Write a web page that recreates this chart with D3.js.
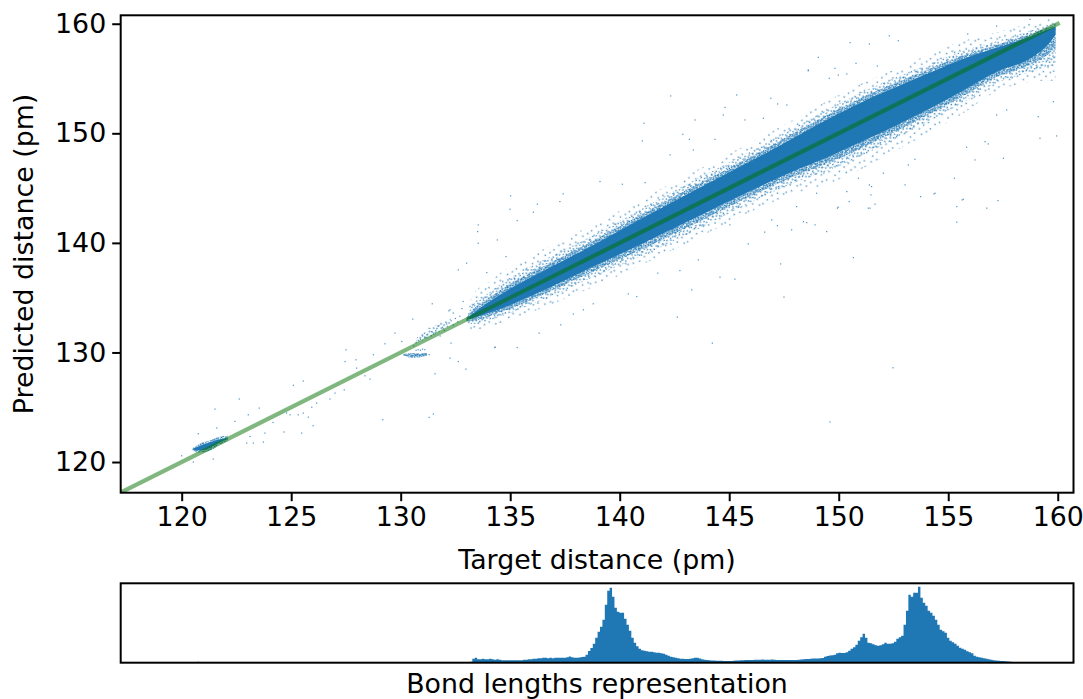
<!DOCTYPE html>
<html>
<head>
<meta charset="utf-8">
<script src="https://cdnjs.cloudflare.com/ajax/libs/d3/7.8.5/d3.min.js"></script>
<style>
  body { margin: 0; background: #fff; }
  text { font-family: "DejaVu Sans", sans-serif; fill: #000; }
  .tick text { font-size: 26.8px; }
  .label { font-size: 26.8px; }
</style>
</head>
<body>
<div id="chart"></div>
<script>
var w = 1083,
    h = 699,
    m = [15.3, 1073.5, 492.7, 120.7],   // top right bottom left
    hm = [583.3, 662.7];                // strip top, bottom

var blue = "#1f77b4";

var xTicks = [120, 125, 130, 135, 140, 145, 150, 155, 160];
var yTicks = [120, 130, 140, 150, 160];

// band envelope: predicted minus target, in pm
var bandTarget = [133.0, 133.3, 134, 134.9, 136, 137.5, 138.7, 140.9, 143, 146.4, 148, 149.8, 151, 152.6, 154, 155.5, 157.2, 158.8, 159.6, 159.9];
var coreUpper  = [0.02, 0.25, 0.55, 0.8, 0.9, 0.95, 1.0, 1.2, 1.35, 1.5, 1.65, 1.8, 1.8, 1.6, 1.4, 1.15, 0.6, 0.05, -0.1, -0.2];
var coreLower  = [-0.02, -0.15, -0.4, -0.65, -0.8, -0.9, -0.95, -1.1, -1.15, -1.25, -1.4, -1.7, -1.8, -1.9, -1.9, -1.8, -1.6, -1.9, -1.4, -0.9];
var denseUpper = [0.2, 1.1, 1.4, 1.8, 1.9, 1.9, 1.9, 2.1, 2.3, 2.4, 2.6, 2.7, 2.7, 2.5, 2.2, 1.9, 1.2, 0.6, 0.3, 0.1];
var denseLower = [-0.2, -0.7, -1.1, -1.4, -1.6, -1.8, -1.9, -2.2, -2.3, -2.3, -2.5, -3.0, -3.1, -3.1, -3.0, -2.9, -2.6, -3.2, -3.5, -3.6];
var sparseUpper = [0.5, 2.0, 2.4, 2.8, 2.9, 2.9, 2.9, 3.0, 3.1, 3.2, 3.3, 3.5, 3.5, 3.3, 3.1, 2.8, 2.0, 1.3, 0.9, 0.4];
var sparseLower = [-0.5, -1.3, -1.7, -2.0, -2.3, -2.6, -2.8, -3.0, -3.1, -3.2, -3.5, -4.2, -4.3, -4.2, -4.1, -3.9, -3.4, -4.1, -4.8, -5.2];

// the little cluster near 121 pm, solid part and its fuzz
var blobTarget = [120.5, 120.8, 121.3, 121.7, 122.1];
var blobUpper  = [121.2, 121.45, 121.8, 122.05, 122.2];
var blobLower  = [121.15, 121.05, 121.3, 121.75, 122.1];
var blobFuzzUpper = [121.25, 121.65, 122.0, 122.3, 122.45];
var blobFuzzLower = [121.05, 120.85, 121.05, 121.5, 121.95];

// the clusters near 131 pm
var upperTarget = [130.7, 131.2, 131.7, 132.3];
var upperHigh   = [131.3, 132.0, 132.6, 133.1];
var upperLow    = [131.0, 131.2, 131.8, 132.5];
var streakTarget = [130.1, 130.6, 131.2];
var streakHigh   = [129.85, 129.95, 129.95];
var streakLow    = [129.75, 129.5, 129.7];

// stray points, target then predicted
var strayTarget = [122.63, 121.52, 120.76, 121.6, 123.54, 123.04, 122.43, 125.1, 125.55, 124.95, 124.79, 125.94, 126.16, 125.78, 125.32, 125.55, 126, 124.67, 125.48, 126.77, 127, 127.5, 127.46, 127.96, 127.99, 128.6, 128.37, 127.42, 129.18, 131.3, 131.49, 129.28, 129.74, 130.05, 130.55, 128.75, 131.57, 132.98, 132.25, 132.63, 134.3, 131.44, 132.85, 122.97, 123.73, 123.27, 124.17, 123.12, 121.44, 120.53, 120, 123.8,
  131, 131.1, 131.2, 131.4, 131.5, 131.3, 131.6, 131.7, 131.9, 132, 131.8, 132.1, 132.3, 132.4, 132.5, 132.6, 132.7, 132.8, 132.4, 132.2, 130.9, 130.8, 130.6, 130.7,
  130.2, 130.3, 130.4, 130.5, 130.55, 130.6, 130.65, 130.7, 130.75, 130.8, 130.85, 130.9, 131, 131.1, 131.3, 130.7, 130.8, 130.9, 131, 131.1,
  152.31, 150.52, 151.4, 152.72, 148.61, 149.07, 149.83, 150.79, 151.76, 149.57, 155.89, 157.21, 158.74, 159.19, 159.95, 157.52, 156.83, 155.84, 156.22, 155.28, 154.4, 153.48, 153.18, 152.04, 151.5, 150.37, 153.03, 155.69, 159.11, 159.8, 157.21, 157.67, 156.68,
  142.33, 141.11, 141.03, 142.3, 142.88, 143.18, 143.44, 144.73, 144.81, 145.34, 145.72, 146.56, 146.9, 147.21, 148.61, 149.98, 144.35, 143.36, 150.37, 148.54, 149.98, 150.48, 151.4, 145.87, 146.94, 148.08, 150.9, 151.43, 148.99, 147.63,
  147.35, 147.5, 150.67, 149.45, 147.85, 146.62, 148.92, 148.39, 147.2, 156.76, 155.64, 155.39, 155.39, 154.35, 153.74, 157.27, 151.66, 151.35, 149.94, 151.47, 152.48, 149.6,
  135.02, 136.24, 137.42, 137.27, 134.99, 136.06, 133.54, 133.51, 134.41, 135.32, 133.54, 134.81, 132.63, 133.01, 133.93, 132.25, 136.32, 132.3, 134.31, 135.32, 137.31, 138.34, 137.88, 138.79, 140.39, 140.78, 141.74, 142.75, 143.29, 142.63, 144.23, 143.59, 144.58, 145.26, 145.03, 139.1, 140.12, 141.16];
var strayPredicted = [125.75, 124.83, 122.58, 123.1, 124.92, 124.31, 123.71, 127, 127.39, 124.31, 124.47, 125, 125.38, 124.1, 124.31, 124.47, 123.31, 122.74, 122.64, 125.75, 126.29, 130.24, 129.17, 129.33, 128.57, 127.57, 127.87, 126.59, 123.86, 124.07, 124.38, 130.79, 131.76, 131, 133.04, 129.79, 128.05, 128.48, 129.48, 129.17, 130.45, 134.44, 134.65, 121.73, 121.82, 121.73, 123.61, 122.33, 120.27, 120, 120.57, 122.64,
  131.5, 131.4, 131.6, 131.9, 131.7, 132.2, 132, 132.4, 132.3, 132, 131.5, 132.6, 132.9, 132.5, 133.1, 132.8, 133.3, 134, 133.6, 133.8, 131.2, 131.1, 130.6, 130.9,
  129.75, 129.7, 129.8, 129.7, 129.75, 129.7, 129.8, 129.7, 129.75, 129.8, 129.7, 129.75, 129.8, 129.85, 129.8, 130.2, 130.25, 130.2, 130.3, 130.25,
  158.9, 158.27, 158.15, 158.45, 155.78, 156.93, 155.93, 156.39, 156.14, 155.02, 159.06, 159.79, 160.4, 149.55, 149.76, 147.72, 149.03, 148.73, 147.57, 145.9, 144.53, 147.63, 147.11, 146.36, 145.14, 144.68, 145.29, 143.98, 151.52, 152.89, 151.67, 152.13, 149.24,
  153.41, 150.92, 149.3, 148.03, 149.91, 149.45, 151.22, 151.67, 152.37, 153.5, 151.22, 151.37, 153.2, 152.68, 155.71, 155.32, 149.45, 148.48, 155.41, 141.85, 143.26, 143.77, 145.29, 139.91, 142.1, 143.31, 145.9, 143.17, 144.53, 152.58,
  138.08, 135.05, 138.66, 141.03, 141.19, 140.98, 141.64, 141.94, 141.58, 143.17, 143.92, 141.89, 143.31, 144.47, 144.22, 143.86, 143.53, 143.17, 143.17, 144.38, 128.6, 123.66,
  144.29, 143.53, 144.47, 143.77, 143.07, 142.8, 141.64, 141.03, 140.27, 142.03, 139.97, 138.75, 137.54, 138.15, 137.29, 133.89, 131.76, 130.85, 130.49, 130.45, 132.52, 133.89, 133.5, 134.44, 135.35, 135.1, 137.24, 137.47, 135.71, 133.22, 130.85, 138.45, 136.87, 136.69, 141.64, 145.6, 145.35, 145.5];

var histStart = 133.16,
    histBin = 0.11;
var histCounts = [1, 4, 5, 3.5, 3.5, 4, 3.5, 3.5, 4, 3.5, 3, 3.5, 3, 2.5, 2.5, 2.5, 2.5, 2.5, 2.5, 2.5, 2.5, 2.5, 3, 3, 3.5, 3.5, 4, 4, 4.5, 4.5, 5, 5, 4.5, 5, 4.5, 5, 5,
  5, 5, 5, 5.5, 6.3, 5.5, 5, 5, 5.2, 5.8, 6, 8, 11.7, 14.7, 19, 25, 31, 36, 43, 58, 72, 75, 66, 55, 51, 50, 50, 44, 38, 32, 25, 20, 16.5, 14, 12.5, 12, 11.5, 11, 11, 10.5, 10, 10, 9.5, 9, 8, 7, 6,
  5.5, 5, 4.5, 4, 4, 3.8, 3.8, 4, 4.5, 5, 5, 4.2, 3.5, 3, 2.8, 2.5, 2.3, 2.2, 2, 2, 2, 1.8, 1.6, 1.6, 1.7, 2, 2.2, 2.3, 2.5, 2.5, 2.6, 2.8, 2.8, 2.8, 3, 3, 3, 3.2, 3, 3, 3, 3.2, 3, 2.8, 2.7, 2.7, 2.6, 2.6, 2.6, 2.6, 2.7, 2.8, 3, 3.2, 3.5, 3.6, 3.8, 4, 4.2, 4.2, 4.3, 4.4,
  4.8, 6, 6.8, 7.2, 7.5, 8, 9.5, 10, 9.7, 9.8, 10.5, 12, 14, 15.5, 18, 22, 25.5, 29, 25, 20, 19.5, 18.5, 17.5, 17, 17.5, 18.5, 20, 19, 19, 19.5, 21, 24, 25.5, 27, 38, 52, 68, 66, 70, 70, 76, 65, 60, 57, 52, 50,
  47, 43, 38, 33, 31.5, 30, 25, 22, 20.5, 19, 17, 15, 14, 13, 11.5, 10.5, 9.5, 7, 6, 5.5, 5, 4.5, 4, 3.5, 3, 2.5, 2.3, 2, 1.8, 1.7, 1.5, 1.3, 1, 0.8, 0.5, 0.4, 0.3, 0.2];
var histLowBin = 120.7,
    histLowCount = 0.9;

// one irregular tile of dots for the stippled fringe (texture only, not data)
var tileDots = [[2,3],[9,1],[17,4],[25,2],[29,8],[5,9],[13,8],[21,10],[1,14],[10,15],[18,13],[26,15],[7,20],[15,19],[23,21],[30,20],[3,25],[12,26],[20,24],[27,27],[6,31],[16,32],[24,33],[30,35],[1,35],[11,36]];

var x = d3.scaleLinear().domain([117.215, 160.72]).range([m[3], m[1]]);
var y = d3.scaleLinear().domain([117.2, 160.77]).range([m[2], m[0]]);
var yHist = d3.scaleLinear().domain([0, 79.4]).range([hm[1], hm[0]]);

var svg = d3.select("#chart").append("svg")
    .attr("width", w)
    .attr("height", h)
    .style("display", "block");

var defs = svg.append("defs");

defs.append("clipPath").attr("id", "plot-clip")
  .append("rect")
    .attr("x", m[3]).attr("y", m[0])
    .attr("width", m[1] - m[3]).attr("height", m[2] - m[0]);

function makeStipple(id, scale, angle, dot, alpha) {
  var p = defs.append("pattern")
      .attr("id", id)
      .attr("patternUnits", "userSpaceOnUse")
      .attr("width", 32)
      .attr("height", 38)
      .attr("patternTransform", "rotate(" + angle + ") scale(" + scale + ")");
  p.selectAll("rect").data(tileDots)
    .enter().append("rect")
      .attr("x", function(d) { return d[0]; })
      .attr("y", function(d) { return d[1]; })
      .attr("width", dot / scale)
      .attr("height", dot / scale)
      .attr("fill", blue)
      .attr("fill-opacity", alpha);
}

makeStipple("st-sparse", 0.85, 23, 1.4, 0.8);
makeStipple("st-dense", 0.5, 61, 1.4, 0.9);
makeStipple("st-rim", 0.3, 37, 1.5, 1);

function band(upper, lower) {
  return d3.area()
      .curve(d3.curveMonotoneX)
      .x(function(d) { return x(d); })
      .y0(function(d, i) { return y(d + lower[i]); })
      .y1(function(d, i) { return y(d + upper[i]); });
}

// same thing for clusters, whose edges are read as absolute predicted values
function patch(high, low) {
  return d3.area()
      .curve(d3.curveMonotoneX)
      .x(function(d) { return x(d); })
      .y0(function(d, i) { return y(low[i]); })
      .y1(function(d, i) { return y(high[i]); });
}

var plot = svg.append("g").attr("clip-path", "url(#plot-clip)");

plot.append("path").datum(bandTarget)
    .attr("d", band(sparseUpper, sparseLower))
    .attr("fill", "url(#st-sparse)");

plot.append("path").datum(bandTarget)
    .attr("d", band(denseUpper, denseLower))
    .attr("fill", "url(#st-dense)");

var rimUpper = coreUpper.map(function(d, i) { return d + (denseUpper[i] - d) * 0.45; }),
    rimLower = coreLower.map(function(d, i) { return d + (denseLower[i] - d) * 0.45; });

plot.append("path").datum(bandTarget)
    .attr("d", band(rimUpper, rimLower))
    .attr("fill", "url(#st-rim)");

plot.append("path").datum(bandTarget)
    .attr("d", band(coreUpper, coreLower))
    .attr("fill", blue);

plot.append("path").datum(blobTarget)
    .attr("d", patch(blobFuzzUpper, blobFuzzLower))
    .attr("fill", "url(#st-rim)");

plot.append("path").datum(blobTarget)
    .attr("d", patch(blobUpper, blobLower))
    .attr("fill", blue);

plot.append("path").datum(upperTarget)
    .attr("d", patch(upperHigh, upperLow))
    .attr("fill", "url(#st-dense)");

plot.append("path").datum(streakTarget)
    .attr("d", patch(streakHigh, streakLow))
    .attr("fill", "url(#st-rim)");

plot.selectAll("rect.stray")
    .data(strayTarget)
  .enter().append("rect")
    .attr("class", "stray")
    .attr("x", function(d) { return x(d) - 0.6; })
    .attr("y", function(d, i) { return y(strayPredicted[i]) - 0.6; })
    .attr("width", 1.2)
    .attr("height", 1.2)
    .attr("fill", blue)
    .attr("fill-opacity", 0.8);

// identity line
svg.append("line")
    .attr("clip-path", "url(#plot-clip)")
    .attr("x1", x(117.2)).attr("y1", y(117.2))
    .attr("x2", x(160)).attr("y2", y(160))
    .attr("stroke", "#007000")
    .attr("stroke-opacity", 0.5)
    .attr("stroke-width", 4.2)
    .attr("stroke-linecap", "square");

// histogram strip
svg.append("path").datum(histCounts.concat([0]))
    .attr("d", d3.area()
      .curve(d3.curveStepAfter)
      .x(function(d, i) { return x(histStart + i * histBin); })
      .y0(hm[1])
      .y1(function(d) { return yHist(d); }))
    .attr("fill", blue);

svg.append("rect")
    .attr("x", x(histLowBin))
    .attr("y", yHist(histLowCount))
    .attr("width", x(histLowBin + histBin) - x(histLowBin))
    .attr("height", yHist(0) - yHist(histLowCount))
    .attr("fill", blue);

// frames
[[m[0], m[2]], hm].forEach(function(b) {
  svg.append("rect")
      .attr("x", m[3]).attr("y", b[0])
      .attr("width", m[1] - m[3]).attr("height", b[1] - b[0])
      .attr("fill", "none")
      .attr("stroke", "#000")
      .attr("stroke-width", 2);
});

// axes
var xAxis = svg.append("g")
    .attr("transform", "translate(0," + m[2] + ")")
    .call(d3.axisBottom(x).tickValues(xTicks).tickFormat(d3.format("d")).tickSize(8.5).tickPadding(6));

var yAxis = svg.append("g")
    .attr("transform", "translate(" + m[3] + ",0)")
    .call(d3.axisLeft(y).tickValues(yTicks).tickFormat(d3.format("d")).tickSize(8.5).tickPadding(6));

[xAxis, yAxis].forEach(function(a) {
  a.select(".domain").remove();
  a.selectAll(".tick line").attr("stroke", "#000").attr("stroke-width", 2);
  a.attr("font-family", null).attr("font-size", null);
});

svg.append("text")
    .attr("class", "label")
    .attr("x", 597)
    .attr("y", 569)
    .attr("text-anchor", "middle")
    .text("Target distance (pm)");

svg.append("text")
    .attr("class", "label")
    .attr("transform", "translate(33,254) rotate(-90)")
    .attr("text-anchor", "middle")
    .text("Predicted distance (pm)");

svg.append("text")
    .attr("class", "label")
    .attr("x", 597)
    .attr("y", 693)
    .attr("text-anchor", "middle")
    .text("Bond lengths representation");
</script>
</body>
</html>
